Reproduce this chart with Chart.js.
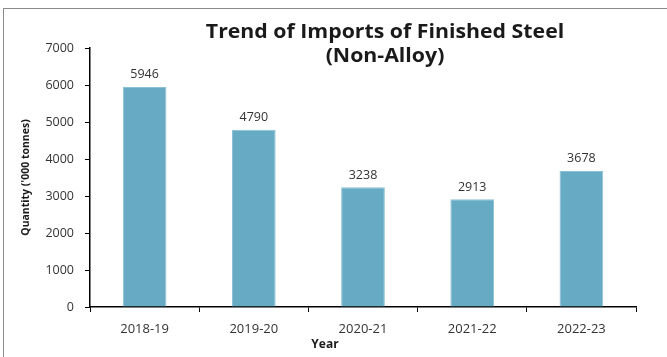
<!DOCTYPE html>
<html>
<head>
<meta charset="utf-8">
<script src="https://cdn.jsdelivr.net/npm/chart.js@4/dist/chart.umd.min.js"></script>
<style>
    body { margin: 0; background: #fff; }
    #marco { position: absolute; left: 3px; top: 8px; width: 700px; height: 400px; border-left: 1px solid #8a8a8a; border-top: 1px solid #8a8a8a; }
    #canvasImportaciones { position: absolute; left: 0; top: 0; }
</style>
</head>
<body>
<div id="marco"></div>
<canvas id="canvasImportaciones" width="667" height="357"></canvas>
<script>
var anios = ['2018-19', '2019-20', '2020-21', '2021-22', '2022-23'];
var cantidad = [5946, 4790, 3238, 2913, 3678];
var tituloLineas = ['Trend of Imports of Finished Steel', '(Non-Alloy)'];
var tituloY = "Quantity ('000 tonnes)";
var tituloX = 'Year';

var fuente = "'Open Sans', sans-serif";

// texto un poco ensanchado, como en el original
function textoAncho(ctx, texto, x, y, escala) {
    ctx.save();
    ctx.translate(x, y);
    ctx.scale(escala, 1);
    ctx.fillText(texto, 0, 0);
    ctx.restore();
}

// textos del grafico: titulo, ejes y valores sobre cada barra
var textosPlugin = {
    id: 'textos',
    afterDatasetsDraw: function (chart) {
        var ctx = chart.ctx;
        var meta = chart.getDatasetMeta(0);
        ctx.save();
        ctx.fillStyle = '#333';
        ctx.font = '12.5px ' + fuente;
        ctx.textAlign = 'center';
        ctx.textBaseline = 'bottom';
        for (let i = 0; i < meta.data.length; i++) {
            let barra = meta.data[i];
            ctx.fillText(cantidad[i], barra.x, barra.y - 6);
        }
        ctx.restore();
    },
    afterDraw: function (chart) {
        var ctx = chart.ctx;
        ctx.save();
        ctx.fillStyle = '#1a1a1a';
        ctx.textAlign = 'center';
        ctx.textBaseline = 'middle';
        ctx.font = 'bold 19px ' + fuente;
        textoAncho(ctx, tituloLineas[0], 385, 33, 1.12);
        textoAncho(ctx, tituloLineas[1], 385, 57, 1.12);

        ctx.font = 'bold 12px ' + fuente;
        ctx.fillText(tituloX, 325, 345);

        ctx.font = 'bold 10.5px ' + fuente;
        ctx.translate(26, chart.chartArea.top + (chart.chartArea.bottom - chart.chartArea.top) / 2);
        ctx.rotate(-Math.PI / 2);
        ctx.fillText(tituloY, 0, 0);
        ctx.restore();
    }
};

var ctx = document.getElementById('canvasImportaciones').getContext('2d');
var chartImportaciones = new Chart(ctx, {
    type: 'bar',
    data: {
        labels: anios,
        datasets: [{
            label: 'Imports',
            data: cantidad,
            backgroundColor: '#67aac4',
            borderColor: '#8cc0d4',
            borderWidth: 1,
            categoryPercentage: 0.8,
            barPercentage: 0.5
        }]
    },
    options: {
        responsive: false,
        animation: false,
        layout: {
            padding: { top: 48, right: 31, bottom: 0, left: 0 }
        },
        plugins: {
            legend: { display: false },
            tooltip: { enabled: false }
        },
        scales: {
            x: {
                afterFit: function (scale) { scale.height = 50; },
                border: { display: true, color: '#000', width: 1.5 },
                grid: { drawOnChartArea: false, drawTicks: true, tickLength: 5, color: '#000', lineWidth: 1 },
                ticks: { color: '#333', font: { family: fuente, size: 13 }, padding: 9, maxRotation: 0 }
            },
            y: {
                min: 0,
                max: 7000,
                afterFit: function (scale) { scale.width = 90; },
                border: { display: true, color: '#000', width: 1.5 },
                grid: { drawOnChartArea: false, drawTicks: true, tickLength: 5, color: '#000', lineWidth: 1 },
                ticks: {
                    stepSize: 1000,
                    color: '#333',
                    font: { family: fuente, size: 12.5 },
                    padding: 11,
                    callback: function (valor) { return String(valor); }
                }
            }
        }
    },
    plugins: [textosPlugin]
});
</script>
</body>
</html>
